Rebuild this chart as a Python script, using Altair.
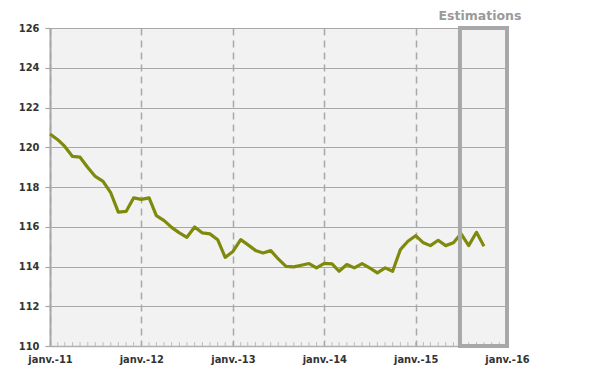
import altair as alt
import pandas as pd

months = pd.date_range("2011-01-01", "2015-10-01", freq="MS").strftime("%Y-%m-%d").tolist()
values = [
    120.67, 120.38, 120.04, 119.54, 119.50, 118.98, 118.53, 118.28, 117.70, 116.74, 116.77, 117.45,
    117.38, 117.45, 116.56, 116.31, 115.97, 115.69, 115.47, 115.99, 115.69, 115.64, 115.35, 114.46,
    114.76, 115.35, 115.10, 114.81, 114.68, 114.80, 114.38, 114.01, 113.98, 114.06, 114.15, 113.93,
    114.16, 114.13, 113.76, 114.10, 113.93, 114.15, 113.93, 113.68, 113.93, 113.76, 114.85, 115.27,
    115.55, 115.19, 115.05, 115.32, 115.05, 115.19, 115.65, 115.05, 115.72, 115.02,
]
x_domain = ["2011-01-01", "2016-01-01"]
y_domain = [110, 126]
y_ticks = [110, 112, 114, 116, 118, 120, 122, 124, 126]
year_ticks = ["2011-01-01", "2012-01-01", "2013-01-01", "2014-01-01", "2015-01-01", "2016-01-01"]
minor_ticks = pd.date_range("2011-02-01", "2015-12-01", freq="MS").strftime("%Y-%m-%d").tolist()
box_range = ["2015-06-27", "2016-01-01"]
box_label = "Estimations"
box_label_pos = "2015-09-15"

df = pd.DataFrame({"date": months, "value": values})
ticks_df = pd.DataFrame({"date": minor_ticks, "base": [y_domain[0]] * len(minor_ticks)})

FONT = "DejaVu Sans Condensed"

xscale = alt.Scale(domain=x_domain)
yscale = alt.Scale(domain=y_domain)

xaxis = alt.Axis(values=year_ticks,
                 labelExpr="'janv.-' + timeFormat(datum.value, '%y')",
                 grid=True, gridDash=[7, 5], gridColor="#a8a8a8", gridWidth=1.5,
                 domainColor="#b0b0b0", domainWidth=1.5, labelAlign="center", labelFlush=False,
                 ticks=False, labelPadding=7, labelFont=FONT, labelFontSize=11,
                 labelColor="#333333", labelFontWeight="bold", labelAngle=0, labelOverlap=False)
yaxis = alt.Axis(values=y_ticks, grid=True, gridColor="#a8a8a8", gridWidth=1.2,
                 domainColor="#a8a8a8", domainWidth=2, tickColor="#a8a8a8",
                 tickSize=5, tickWidth=1.2, labelPadding=6, labelFont=FONT,
                 labelFontSize=11, labelColor="#333333", labelFontWeight="bold",
                 labelOverlap=False)

line = alt.Chart(df).mark_line(color="#7f8a0c", strokeWidth=3.2, strokeJoin="round").encode(
    x=alt.X("date:T", scale=xscale, title=None, axis=xaxis),
    y=alt.Y("value:Q", scale=yscale, title=None, axis=yaxis),
)

minor = alt.Chart(ticks_df).mark_tick(orient="vertical", size=4, thickness=1, color="#a8a8a8",
                                      yOffset=-2).encode(
    x=alt.X("date:T", scale=xscale, title=None, axis=xaxis),
    y=alt.Y("base:Q", scale=yscale, title=None, axis=yaxis),
)

box_df = pd.DataFrame({"x": [box_range[0]], "x2": [box_range[1]],
                       "y": [y_domain[1]], "y2": [y_domain[0]]})
box = alt.Chart(box_df).mark_rect(filled=False, stroke="#a8a8a8", strokeWidth=4).encode(
    x=alt.X("x:T", scale=xscale, title=None, axis=xaxis),
    x2="x2:T",
    y=alt.Y("y:Q", scale=yscale, title=None, axis=yaxis),
    y2="y2:Q",
)

label_df = pd.DataFrame({"x": [box_label_pos], "t": [box_label]})
label = alt.Chart(label_df).mark_text(font="DejaVu Sans", fontSize=12.5, fontWeight="bold",
                                      color="#9a9a9a", baseline="bottom").encode(
    x=alt.X("x:T", scale=xscale, title=None, axis=xaxis),
    y=alt.value(-5),
    text="t:N",
)

chart = alt.layer(line, minor, box, label).properties(
    width=457, height=318,
    autosize=alt.AutoSizeParams(type="none"),
    padding={"left": 50, "top": 28, "right": 43, "bottom": 26},
    background="white",
).configure_view(fill="#f2f2f2", stroke=None)

chart.save("out.html", embed_options={"renderer": "svg", "actions": False})
